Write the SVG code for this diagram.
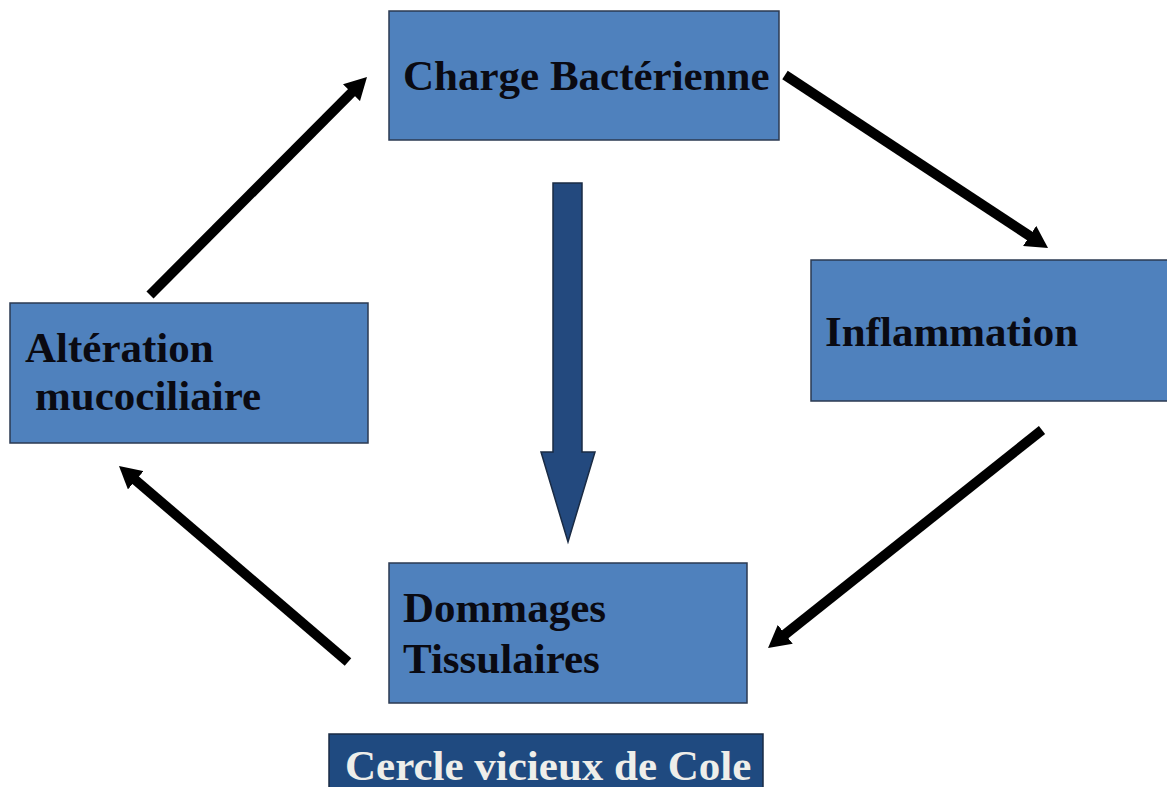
<svg xmlns="http://www.w3.org/2000/svg" width="1167" height="787" viewBox="0 0 1167 787">
  <style>
    .box { fill: #4f81bd; stroke: #2b3a52; stroke-width: 1.5; }
    .lbl { font-family: "Liberation Serif", "Times New Roman", serif; font-weight: bold; font-size: 43px; fill: #0a0a12; }
    .conn { stroke: #000; stroke-width: 10; fill: none; marker-end: url(#head); }
  </style>
  <defs>
    <marker id="head" viewBox="0 0 22 24" refX="2" refY="12" markerWidth="22" markerHeight="24" markerUnits="userSpaceOnUse" orient="auto">
      <path d="M0,0 L22,12 L0,24 z" fill="#000"/>
    </marker>
  </defs>
  <rect width="1167" height="787" fill="#ffffff"/>

  <g id="charge">
    <rect class="box" x="389" y="11" width="390" height="129"/>
    <text class="lbl" x="403" y="90">Charge Bactérienne</text>
  </g>
  <g id="inflammation">
    <rect class="box" x="811" y="260" width="362" height="141"/>
    <text class="lbl" x="825" y="346">Inflammation</text>
  </g>
  <g id="dommages">
    <rect class="box" x="389" y="563" width="358" height="140"/>
    <text class="lbl" x="403" y="622">Dommages</text>
    <text class="lbl" x="403" y="673">Tissulaires</text>
  </g>
  <g id="alteration">
    <rect class="box" x="10" y="303" width="358" height="140"/>
    <text class="lbl" x="25" y="362">Altération</text>
    <text class="lbl" x="35" y="410">mucociliaire</text>
  </g>
  <g id="titre">
    <rect x="329" y="734" width="434" height="60" fill="#1f4a80" stroke="#1a2b44" stroke-width="1.5"/>
    <text class="lbl" x="345" y="780" style="fill:#eeeeea">Cercle vicieux de Cole</text>
  </g>

  <g id="connectors">
    <line class="conn" x1="785" y1="75" x2="1031.3" y2="237"/>
    <line class="conn" x1="1042" y1="430" x2="783.7" y2="635.5"/>
    <line class="conn" x1="348" y1="662" x2="134.2" y2="479"/>
    <line class="conn" x1="150" y1="295" x2="352.9" y2="91.2"/>
    <polygon points="553,183 582,183 582,452 595,452 568,542 541,452 553,452" fill="#23497e" stroke="#1a2b44" stroke-width="1.5"/>
  </g>
</svg>
